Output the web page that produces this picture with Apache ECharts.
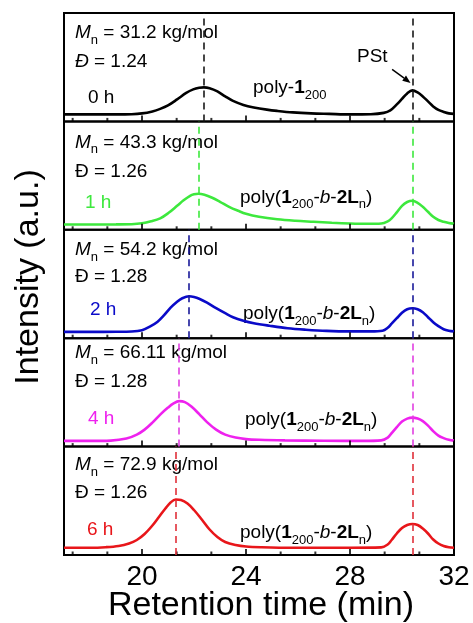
<!DOCTYPE html>
<html>
<head>
<meta charset="utf-8">
<script src="https://cdn.jsdelivr.net/npm/echarts@6/dist/echarts.min.js"></script>
<style>
  html, body { margin: 0; padding: 0; background: #fff; }
  #chart { width: 473px; height: 623px; }
</style>
</head>
<body>
<div id="chart"></div>
<script>
// GPC traces, [retention time (min), intensity (a.u.)]
const trace0h = [[17,7],[18,7],[19,7],[19.6,7.2],[20.0,8],[20.4,10],[20.7,12.5],[21.0,16],[21.35,22],[21.7,28.5],[21.97,32],[22.2,33.6],[22.38,34],[22.6,33.2],[22.9,30],[23.2,25],[23.5,20.5],[23.9,16.5],[24.3,14],[24.8,11.8],[25.2,10.5],[25.8,9],[26.5,8],[27.2,7.5],[28,7],[28.8,7.2],[29.3,8.5],[29.55,11],[29.8,17],[30.0,22.5],[30.2,28],[30.4,31],[30.6,29],[30.8,25],[31.0,20],[31.2,15],[31.4,11.5],[31.6,9.5],[31.8,8],[32,7.5]];
const trace1h = [[17,5.3],[18,5.3],[19,5.4],[19.6,5.6],[20.0,6.5],[20.35,8.5],[20.7,11.5],[21.0,16.5],[21.35,24],[21.6,29.5],[21.85,34],[22.0,35.5],[22.17,36],[22.4,35],[22.7,32],[23.0,28],[23.35,23],[23.7,19],[24.0,16],[24.5,13],[25.2,10.5],[25.9,9],[26.6,8],[27.3,7],[28,6.3],[28.7,6],[29.2,6.3],[29.45,8.5],[29.6,11.5],[29.8,17.5],[30.0,24],[30.2,27.8],[30.4,29],[30.6,27],[30.8,23],[31.0,18],[31.2,13],[31.4,9.8],[31.6,8],[31.8,6.8],[32,6]];
const trace2h = [[17,6.3],[18,6.3],[19,6.4],[19.6,6.7],[20.0,8],[20.3,11.5],[20.6,16.5],[20.85,23],[21.1,30.5],[21.35,36.5],[21.55,40],[21.81,42],[22.0,41.3],[22.2,39.5],[22.5,35.5],[22.85,30],[23.2,25],[23.5,21],[23.9,17.5],[24.3,15],[24.9,12.5],[25.6,10],[26.3,8.5],[27.1,7.3],[28,6.8],[28.8,6.8],[29.25,7.5],[29.45,10.5],[29.6,14.5],[29.8,20],[30.0,25.5],[30.2,29],[30.4,30],[30.6,29],[30.8,26],[31.0,21],[31.2,16],[31.4,12],[31.6,9],[31.8,7.5],[32,6.8]];
const trace4h = [[17,5.7],[18,5.7],[18.8,6],[19.4,8],[19.8,12],[20.1,17],[20.4,24],[20.7,32],[21.0,39],[21.2,43],[21.43,45.5],[21.65,44.5],[21.9,40],[22.2,32.5],[22.5,24.5],[22.85,17],[23.2,12],[23.6,9],[24.0,7.5],[24.5,6.8],[25.5,6.2],[27,5.8],[28.5,5.7],[29.2,6.2],[29.45,9],[29.6,13.5],[29.8,19.5],[30.0,25],[30.2,28],[30.4,29],[30.6,28],[30.8,25.5],[31.0,21],[31.2,15.5],[31.4,11],[31.6,8.5],[31.8,6.8],[32,6]];
const trace6h = [[17,7.3],[18,7.3],[18.6,7.8],[19.1,9],[19.5,11.5],[19.8,15],[20.1,21],[20.4,29.5],[20.65,38],[20.9,46.5],[21.1,52.5],[21.3,55.5],[21.5,55],[21.75,51.5],[22.0,45],[22.3,35.5],[22.6,25.5],[22.9,18],[23.2,13],[23.6,10],[24.0,8.5],[24.6,7.8],[25.8,7.3],[28,7.3],[29.2,7.6],[29.45,10.5],[29.6,15],[29.8,21.5],[30.0,27],[30.2,30],[30.4,31],[30.6,30],[30.8,26.5],[31.0,21.5],[31.2,15.5],[31.4,11.5],[31.6,9],[31.8,7.8],[32,7.3]];

const traces = [trace0h, trace1h, trace2h, trace4h, trace6h];
const hourLabels = ['0 h', '1 h', '2 h', '4 h', '6 h'];
const mnValues = ['31.2', '43.3', '54.2', '66.11', '72.9'];
const dispersityValues = ['1.24', '1.26', '1.28', '1.28', '1.26'];
const mainPeaks = [22.38, 22.17, 21.81, 21.43, 21.31];
const pstPeak = 30.4;
const xMajorTicks = [20, 24, 28, 32];
const xMinorTicks = [17.333, 18.667, 21.333, 22.667, 25.333, 26.667, 29.333, 30.667];
const xMin = 17, xMax = 32;
const yMax = 108.4;
// PSt arrow: tail and tip in data coordinates of the top panel
const pstArrowTail = [29.62, 52];
const pstArrowTip = [30.33, 38.5];

// styling
const lineColors = ['#000000', '#3de83d', '#0a0ac8', '#ee22ee', '#e8161a'];
const dashColors = ['#1a1a1a', '#3de83d', '#1a1a99', '#e040e0', '#e0303a'];
const FONT = '"Liberation Sans", Arial, Helvetica, sans-serif';

// layout of the stacked panels
const plotLeft = 64, plotRight = 454, plotTop = 13, plotBottom = 555;
const panelH = (plotBottom - plotTop) / traces.length;

// text offsets within each panel (from the panel top)
const textPos = [
  { mn: 20, d: 49, hour: 85, hx: 88, poly: 75, px: 253 },
  { mn: 21, d: 50, hour: 81, hx: 85, poly: 76, px: 240 },
  { mn: 20, d: 47, hour: 80, hx: 90, poly: 84, px: 243 },
  { mn: 15, d: 44, hour: 81, hx: 88, poly: 82, px: 245 },
  { mn: 18, d: 46, hour: 83, hx: 87, poly: 86, px: 240 }
];

const TXT = 19, SUB = 13;
const rich = {
  r: { fontSize: TXT, fontFamily: FONT, color: '#000', lineHeight: 28, verticalAlign: 'middle' },
  i: { fontSize: TXT, fontFamily: FONT, color: '#000', fontStyle: 'italic', lineHeight: 28, verticalAlign: 'middle' },
  b: { fontSize: TXT, fontFamily: FONT, color: '#000', fontWeight: 'bold', lineHeight: 28, verticalAlign: 'middle' },
  s: { fontSize: SUB, fontFamily: FONT, color: '#000', lineHeight: 12, verticalAlign: 'bottom' }
};

const grids = [], xAxes = [], yAxes = [], series = [], graphics = [];

traces.forEach((trace, k) => {
  const top = plotTop + k * panelH;
  grids.push({ left: plotLeft, width: plotRight - plotLeft, top: top, height: panelH,
    show: true, borderColor: '#000', borderWidth: 2, backgroundColor: 'transparent' });
  const isLast = k === traces.length - 1;
  xAxes.push({
    type: 'value', gridIndex: k, min: xMin, max: xMax, position: 'bottom',
    axisLine: { show: false }, splitLine: { show: false }, axisTick: { show: false },
    axisLabel: { show: isLast, customValues: xMajorTicks, fontSize: 28, fontFamily: FONT, color: '#000', margin: 8,
      showMinLabel: true, showMaxLabel: true, hideOverlap: false }
  });
  yAxes.push({ type: 'value', gridIndex: k, min: 0, max: yMax, show: false });

  series.push({
    type: 'line', xAxisIndex: k, yAxisIndex: k, data: trace, z: 3,
    smooth: 0.35, showSymbol: false, symbol: 'none', silent: true,
    lineStyle: { color: lineColors[k], width: 2.6 },
    markLine: {
      silent: true, symbol: 'none', label: { show: false },
      lineStyle: { color: dashColors[k], type: [7, 5], width: 1.6 },
      data: [{ xAxis: mainPeaks[k] }, { xAxis: pstPeak }], animation: false
    },
    animation: false
  });

  // inward ticks along the bottom edge of every panel
  series.push({
    type: 'scatter', xAxisIndex: k, yAxisIndex: k, silent: true, z: 4,
    data: xMajorTicks.map(v => [v, 0]), symbol: 'rect', symbolSize: [2, 6], symbolOffset: [0, -3],
    itemStyle: { color: '#000' }, animation: false, clip: false
  });
  series.push({
    type: 'scatter', xAxisIndex: k, yAxisIndex: k, silent: true, z: 4,
    data: xMinorTicks.map(v => [v, 0]), symbol: 'rect', symbolSize: [2, 3.5], symbolOffset: [0, -1.75],
    itemStyle: { color: '#000' }, animation: false, clip: false
  });

  const p = textPos[k];
  graphics.push({
    type: 'text', x: 75, y: top + p.mn,
    style: { text: '{i|M}{s|n}{r| = ' + mnValues[k] + ' kg/mol}', rich: rich, verticalAlign: 'middle', align: 'left' }
  });
  graphics.push({
    type: 'text', x: 75, y: top + p.d,
    style: { text: (k === 0 ? '{i|Đ}' : '{r|Đ}') + '{r| = ' + dispersityValues[k] + '}', rich: rich, verticalAlign: 'middle', align: 'left' }
  });
  graphics.push({
    type: 'text', x: p.hx, y: top + p.hour,
    style: { text: hourLabels[k], fontSize: TXT, fontFamily: FONT, fill: lineColors[k], verticalAlign: 'middle', align: 'left' }
  });
  const polyText = k === 0
    ? '{r|poly-}{b|1}{s|200}'
    : '{r|poly(}{b|1}{s|200}{r|-}{i|b}{r|-}{b|2L}{s|n}{r|)}';
  graphics.push({
    type: 'text', x: p.px, y: top + p.poly,
    style: { text: polyText, rich: rich, verticalAlign: 'middle', align: 'left' }
  });
});

// PSt label
graphics.push({
  type: 'text', x: 357, y: 57,
  style: { text: 'PSt', fontSize: TXT, fontFamily: FONT, fill: '#000', verticalAlign: 'middle', align: 'left' }
});

// axis titles
graphics.push({
  type: 'text', x: 29, y: 277, rotation: Math.PI / 2,
  style: { text: 'Intensity (a.u.)', fontSize: 34, fontFamily: FONT, fill: '#000', align: 'center', verticalAlign: 'middle' }
});
graphics.push({
  type: 'text', x: 261, y: 606,
  style: { text: 'Retention time (min)', fontSize: 34, fontFamily: FONT, fill: '#000', align: 'center', verticalAlign: 'middle' }
});

const chart = echarts.init(document.getElementById('chart'), null, { renderer: 'canvas' });
chart.setOption({
  animation: false,
  backgroundColor: '#fff',
  grid: grids,
  xAxis: xAxes,
  yAxis: yAxes,
  series: series,
  graphic: graphics
});

// arrow pointing at the PSt peak, placed through the top panel's scales
const tail = chart.convertToPixel({ xAxisIndex: 0, yAxisIndex: 0 }, pstArrowTail);
const tip = chart.convertToPixel({ xAxisIndex: 0, yAxisIndex: 0 }, pstArrowTip);
const ang = Math.atan2(tip[1] - tail[1], tip[0] - tail[0]);
const headLen = 8, headHalf = 3.2;
const base = [tip[0] - headLen * Math.cos(ang), tip[1] - headLen * Math.sin(ang)];
const nx = -Math.sin(ang), ny = Math.cos(ang);
chart.setOption({
  graphic: graphics.concat([
    { type: 'line', shape: { x1: tail[0], y1: tail[1], x2: base[0], y2: base[1] },
      style: { stroke: '#000', lineWidth: 1.4 }, z: 10 },
    { type: 'polygon', shape: { points: [tip, [base[0] + nx * headHalf, base[1] + ny * headHalf], [base[0] - nx * headHalf, base[1] - ny * headHalf]] },
      style: { fill: '#000' }, z: 10 }
  ])
});
</script>
</body>
</html>
